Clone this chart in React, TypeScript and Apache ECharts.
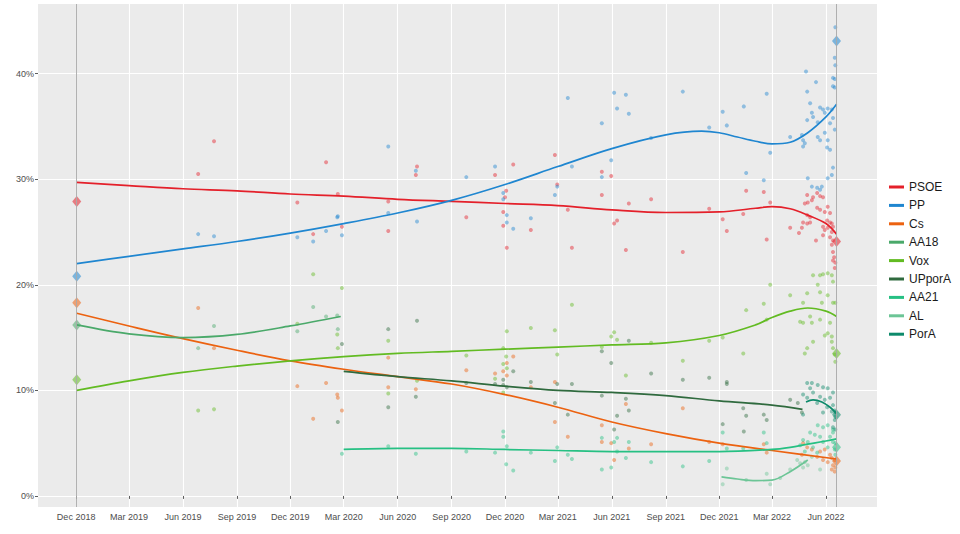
import { useEffect, useRef } from "react";
import * as echarts from "echarts";

type Pt = [string, number];

// party order, as in the legend
const parties = ["PSOE", "PP", "Cs", "AA18", "Vox", "UPporA", "AA21", "AL", "PorA"];

const partyColors: Record<string, string> = {
  PSOE: "#e4202a",
  PP: "#1f86d0",
  Cs: "#ec6210",
  AA18: "#4aa96a",
  Vox: "#62bb22",
  UPporA: "#2f6a3e",
  AA21: "#26c083",
  AL: "#6cc596",
  PorA: "#0d8a6b",
};

// x axis ticks (every quarter) and y axis ticks
const xTicks = [
  "2018-12-01", "2019-03-01", "2019-06-01", "2019-09-01", "2019-12-01",
  "2020-03-01", "2020-06-01", "2020-09-01", "2020-12-01", "2021-03-01",
  "2021-06-01", "2021-09-01", "2021-12-01", "2022-03-01", "2022-06-01",
];
const yTicks = [0, 10, 20, 30, 40];
const xRange = ["2018-09-27", "2022-08-27"];

// election days and results
const electionDates = ["2018-12-02", "2022-06-19"];
const result2018: [string, number][] = [
  ["PSOE", 27.9], ["PP", 20.8], ["Cs", 18.3], ["AA18", 16.2], ["Vox", 11.0],
];
const result2022: [string, number][] = [
  ["PP", 43.1], ["PSOE", 24.1], ["Vox", 13.5], ["PorA", 7.7], ["AA21", 4.6], ["Cs", 3.3],
];

// polls
const psoePolls: Pt[] = [
  ["2019-06-27", 30.5], ["2019-07-24", 33.6], ["2019-12-13", 27.8], ["2020-01-09", 24.8],
  ["2020-01-31", 31.6], ["2020-02-20", 28.6], ["2020-02-27", 25.5], ["2020-05-16", 27.9],
  ["2020-05-16", 25.1], ["2020-07-04", 31.2], ["2020-07-02", 30.4], ["2020-09-26", 26.4],
  ["2020-11-14", 30.4], ["2020-12-03", 28.9], ["2020-12-01", 28.3], ["2020-11-28", 26.9],
  ["2020-11-28", 25.6], ["2020-12-04", 23.5], ["2020-12-15", 31.4], ["2021-01-14", 25.2],
  ["2021-02-24", 32.3], ["2021-02-28", 29.5], ["2021-03-18", 27.1], ["2021-03-25", 23.5],
  ["2021-05-15", 30.7], ["2021-05-31", 30.3], ["2021-05-15", 28.5], ["2021-06-30", 27.7],
  ["2021-06-05", 25.8], ["2021-06-10", 26.1], ["2021-06-25", 23.3], ["2021-08-07", 28.1],
  ["2021-09-30", 23.1], ["2021-11-14", 27.2], ["2021-12-07", 26.2], ["2021-12-14", 25.1],
  ["2022-01-16", 28.9], ["2022-01-11", 26.7], ["2022-02-15", 28.8], ["2022-02-26", 27.8],
  ["2022-02-20", 24.3], ["2022-04-01", 25.4],
  ["2022-04-30", 28.5], ["2022-05-10", 28.3], ["2022-05-17", 28.7], ["2022-05-22", 28.4],
  ["2022-05-27", 28.3], ["2022-05-01", 27.8], ["2022-05-08", 28.0], ["2022-04-26", 27.7],
  ["2022-05-17", 27.3], ["2022-05-22", 27.1], ["2022-06-04", 27.4], ["2022-05-30", 26.9],
  ["2022-06-08", 26.8], ["2022-04-30", 26.6], ["2022-05-05", 26.4], ["2022-04-23", 25.9],
  ["2022-04-30", 25.8], ["2022-05-05", 25.9], ["2022-06-03", 26.1], ["2022-06-08", 25.9],
  ["2022-06-11", 25.8], ["2022-06-13", 25.5], ["2022-05-27", 25.5], ["2022-04-21", 25.4],
  ["2022-05-30", 25.2], ["2022-06-04", 25.4], ["2022-06-11", 25.0], ["2022-04-16", 24.9],
  ["2022-05-27", 24.7], ["2022-06-08", 24.5], ["2022-06-13", 24.2], ["2022-05-15", 24.2],
  ["2022-06-11", 23.8], ["2022-06-13", 23.1], ["2022-06-15", 22.6], ["2022-06-13", 22.3],
  ["2022-06-17", 22.1], ["2022-06-16", 21.6],
];
const ppPolls: Pt[] = [
  ["2019-06-27", 24.8], ["2019-07-24", 24.6], ["2019-12-13", 24.5], ["2020-01-09", 24.1],
  ["2020-01-31", 25.1], ["2020-02-19", 26.4], ["2020-02-20", 26.5], ["2020-02-27", 24.7],
  ["2020-05-16", 33.1], ["2020-05-16", 26.8], ["2020-07-02", 30.8], ["2020-07-04", 26.0],
  ["2020-09-26", 30.2], ["2020-11-14", 31.2], ["2020-11-28", 28.7], ["2020-11-28", 28.1],
  ["2020-12-04", 26.6], ["2020-12-04", 25.9], ["2020-12-15", 25.3], ["2021-01-14", 26.3],
  ["2021-02-28", 29.3], ["2021-02-24", 28.5], ["2021-03-18", 37.7], ["2021-03-25", 31.2],
  ["2021-05-15", 35.3], ["2021-06-05", 38.2], ["2021-06-25", 38.0], ["2021-06-10", 36.7],
  ["2021-06-30", 36.2], ["2021-05-31", 31.8], ["2021-05-15", 30.2], ["2021-08-07", 33.9],
  ["2021-09-30", 38.3], ["2021-11-14", 34.9], ["2021-12-07", 36.4], ["2021-12-14", 35.1],
  ["2022-01-12", 36.9], ["2022-01-16", 30.6], ["2022-02-20", 38.1], ["2022-02-26", 32.5],
  ["2022-02-15", 29.9],
  ["2022-04-28", 40.2], ["2022-05-15", 39.2], ["2022-06-17", 40.8], ["2022-06-13", 39.6],
  ["2022-06-16", 39.5], ["2022-06-13", 38.8], ["2022-06-16", 38.7], ["2022-04-30", 38.3],
  ["2022-05-05", 37.2], ["2022-05-22", 36.8], ["2022-05-27", 36.6], ["2022-06-04", 36.7],
  ["2022-06-11", 36.6], ["2022-05-08", 36.3], ["2022-05-10", 35.9], ["2022-05-30", 36.3],
  ["2022-06-13", 35.8], ["2022-04-30", 35.6], ["2022-05-18", 35.4], ["2022-06-08", 35.3],
  ["2022-06-16", 34.7], ["2022-05-30", 34.4], ["2022-04-21", 34.2], ["2022-04-01", 34.0],
  ["2022-04-23", 33.7], ["2022-05-18", 34.0], ["2022-05-22", 33.7], ["2022-04-26", 33.4],
  ["2022-04-23", 33.1], ["2022-06-04", 33.7], ["2022-06-03", 33.0], ["2022-06-08", 32.8],
  ["2022-06-13", 31.1], ["2022-06-11", 30.4], ["2022-06-04", 30.1], ["2022-05-01", 30.1],
  ["2022-05-08", 29.3], ["2022-05-17", 29.2], ["2022-05-25", 29.3], ["2022-05-22", 29.0],
  ["2022-06-17", 44.4], ["2022-06-16", 41.5],
];
const csPolls: Pt[] = [
  ["2019-06-27", 17.8], ["2019-07-24", 14.0], ["2019-12-13", 10.4], ["2020-01-09", 7.3],
  ["2020-01-31", 10.7], ["2020-02-19", 9.6], ["2020-02-20", 9.3], ["2020-02-27", 8.1],
  ["2020-05-16", 13.1], ["2020-05-16", 10.3], ["2020-07-02", 10.1], ["2020-09-26", 11.9],
  ["2020-11-14", 11.6], ["2020-12-04", 12.6], ["2020-11-28", 11.8], ["2020-12-04", 11.4],
  ["2020-12-15", 13.2], ["2021-01-14", 10.3], ["2021-02-24", 10.8], ["2021-02-24", 7.0],
  ["2021-03-18", 5.6], ["2021-06-25", 8.7], ["2021-05-15", 6.7], ["2021-05-15", 5.1],
  ["2021-05-31", 5.0], ["2021-06-30", 4.5], ["2021-06-05", 3.4], ["2021-08-07", 4.9],
  ["2021-09-30", 8.3], ["2021-11-14", 5.1], ["2021-12-07", 4.9], ["2022-02-15", 4.9],
  ["2022-02-20", 4.1],
  ["2022-04-23", 5.0], ["2022-04-30", 4.6], ["2022-05-08", 4.4], ["2022-04-21", 3.9],
  ["2022-05-22", 4.2], ["2022-05-30", 4.4], ["2022-06-08", 3.9], ["2022-06-11", 3.6],
  ["2022-06-04", 3.2], ["2022-05-27", 3.4], ["2022-06-16", 3.4], ["2022-06-13", 2.9],
  ["2022-06-17", 2.7], ["2022-06-11", 2.5], ["2022-06-16", 2.3], ["2022-05-17", 3.7],
];
const aa18Polls: Pt[] = [
  ["2019-06-27", 14.0], ["2019-07-24", 16.1], ["2019-12-13", 15.6], ["2020-01-09", 17.9],
  ["2020-01-31", 17.0], ["2020-02-19", 17.1], ["2020-02-20", 15.8],
];
const voxPolls: Pt[] = [
  ["2019-06-27", 8.1], ["2019-07-24", 8.2], ["2019-12-13", 16.3], ["2020-01-09", 21.0],
  ["2020-02-19", 15.3], ["2020-02-20", 14.0], ["2020-02-27", 19.7], ["2020-05-16", 14.7],
  ["2020-05-16", 9.7], ["2020-07-04", 10.9], ["2020-09-26", 13.3], ["2020-11-14", 11.1],
  ["2020-11-28", 14.0], ["2020-12-04", 15.6], ["2020-12-03", 13.2], ["2020-11-28", 12.5],
  ["2020-12-04", 12.1], ["2020-11-28", 9.8], ["2021-01-14", 15.9], ["2021-02-24", 15.7],
  ["2021-02-28", 13.4], ["2021-03-25", 18.1], ["2021-05-15", 14.1], ["2021-05-31", 15.1],
  ["2021-06-05", 15.5], ["2021-06-10", 14.8], ["2021-08-07", 14.5], ["2021-06-25", 11.4],
  ["2021-09-30", 12.8], ["2021-11-14", 14.7], ["2021-12-07", 15.0], ["2022-01-16", 17.6],
  ["2022-01-11", 13.5], ["2022-02-15", 18.2], ["2022-02-26", 20.0], ["2022-02-20", 16.7],
  ["2022-04-01", 19.0],
  ["2022-05-10", 20.9], ["2022-05-22", 20.9], ["2022-05-27", 21.0], ["2022-06-04", 21.1],
  ["2022-06-11", 20.9], ["2022-06-13", 20.3], ["2022-05-18", 20.0], ["2022-04-30", 19.2],
  ["2022-05-22", 19.3], ["2022-06-04", 19.0], ["2022-06-13", 18.3], ["2022-05-25", 18.3],
  ["2022-06-17", 18.3], ["2022-04-23", 18.3], ["2022-05-05", 17.0], ["2022-04-18", 16.5],
  ["2022-04-23", 16.4], ["2022-05-08", 16.4], ["2022-05-22", 16.7], ["2022-06-08", 16.4],
  ["2022-05-30", 15.2], ["2022-06-04", 15.4], ["2022-06-11", 15.1], ["2022-06-11", 14.6],
  ["2022-05-10", 14.6], ["2022-06-13", 14.0], ["2022-04-30", 14.0], ["2022-04-26", 13.5],
  ["2022-06-16", 13.4], ["2022-06-17", 12.7],
];
const upPolls: Pt[] = [
  ["2020-02-27", 14.4], ["2020-02-20", 7.0], ["2020-05-16", 15.8], ["2020-05-16", 8.4],
  ["2020-07-04", 16.6], ["2020-07-02", 9.4], ["2020-09-26", 10.7], ["2020-11-14", 10.6],
  ["2020-12-15", 11.8], ["2020-11-28", 11.0], ["2020-11-28", 10.5], ["2020-12-04", 10.3],
  ["2021-01-14", 10.8], ["2021-02-28", 10.6], ["2021-02-24", 8.8], ["2021-03-25", 10.6],
  ["2021-03-18", 7.7], ["2021-05-15", 13.7], ["2021-05-31", 12.6], ["2021-05-15", 9.5],
  ["2021-06-25", 9.2], ["2021-06-30", 8.1], ["2021-06-10", 7.6], ["2021-06-05", 6.3],
  ["2021-06-30", 14.7], ["2021-08-07", 11.6], ["2021-09-30", 11.0], ["2021-11-14", 11.2],
  ["2021-12-14", 10.8], ["2021-12-14", 10.6], ["2021-12-07", 6.8], ["2022-01-11", 8.3],
  ["2022-01-16", 7.6], ["2022-01-12", 6.1], ["2022-02-15", 7.7], ["2022-02-20", 7.2],
  ["2022-04-01", 9.1], ["2022-04-14", 8.8], ["2022-04-21", 7.9],
];
const aa21Polls: Pt[] = [
  ["2020-02-27", 4.0], ["2020-05-16", 4.7], ["2020-07-02", 4.0], ["2020-09-26", 4.2],
  ["2020-11-14", 4.1], ["2020-11-28", 6.1], ["2020-11-28", 5.6], ["2020-12-04", 4.7],
  ["2020-12-03", 3.0], ["2020-12-15", 2.4], ["2021-01-14", 4.1], ["2021-02-28", 4.6],
  ["2021-02-24", 3.3], ["2021-03-18", 3.9], ["2021-03-25", 3.5], ["2021-05-15", 5.5],
  ["2021-06-05", 5.1], ["2021-06-10", 5.5], ["2021-06-30", 5.1], ["2021-06-25", 3.6],
  ["2021-05-15", 2.5], ["2021-05-31", 2.7], ["2021-06-10", 4.2], ["2021-08-07", 3.2],
  ["2021-09-30", 2.8], ["2021-11-14", 3.3], ["2021-12-07", 6.0], ["2021-12-14", 4.5],
  ["2022-01-11", 4.5], ["2022-02-15", 6.0], ["2022-02-20", 5.0],
  ["2022-05-18", 6.7], ["2022-05-27", 6.5], ["2022-06-04", 6.7], ["2022-06-13", 6.3],
  ["2022-05-05", 6.0], ["2022-05-13", 5.8], ["2022-05-22", 5.6], ["2022-06-08", 5.6],
  ["2022-04-23", 5.3], ["2022-05-01", 5.1], ["2022-05-27", 5.1], ["2022-06-13", 5.1],
  ["2022-06-17", 5.0], ["2022-04-18", 4.8], ["2022-05-10", 4.6], ["2022-06-04", 4.6],
  ["2022-06-16", 4.4], ["2022-04-26", 4.2], ["2022-05-17", 4.1], ["2022-06-17", 3.9],
  ["2022-06-13", 6.0],
];
const alPolls: Pt[] = [
  ["2021-12-14", 2.6], ["2021-12-07", 1.1], ["2022-01-16", 1.5], ["2022-02-20", 2.1],
  ["2022-02-26", 1.1], ["2022-03-15", 1.7], ["2022-04-18", 3.1], ["2022-04-26", 3.2],
  ["2022-05-01", 2.9], ["2022-04-23", 2.7], ["2022-04-01", 2.5], ["2022-05-22", 2.5],
  ["2022-04-13", 3.4], ["2022-05-08", 3.7],
];
const porAPolls: Pt[] = [
  ["2022-04-30", 10.7], ["2022-05-08", 10.7], ["2022-05-18", 10.5], ["2022-05-27", 10.3],
  ["2022-06-04", 10.2], ["2022-05-05", 10.2], ["2022-05-10", 9.8], ["2022-06-13", 9.8],
  ["2022-04-23", 9.6], ["2022-04-30", 9.3], ["2022-05-22", 9.4], ["2022-05-30", 9.1],
  ["2022-06-08", 9.3], ["2022-05-17", 8.8], ["2022-06-03", 8.4], ["2022-06-13", 8.6],
  ["2022-06-16", 8.1], ["2022-06-11", 8.0], ["2022-06-17", 7.9], ["2022-06-17", 7.5],
  ["2022-05-27", 7.9], ["2022-04-23", 7.7], ["2022-06-16", 7.2], ["2022-06-13", 6.5],
  ["2022-06-17", 6.3],
];

// smoothed trends
const psoeTrend: Pt[] = [
  ["2018-12-02", 29.7], ["2019-03-01", 29.4], ["2019-06-01", 29.1], ["2019-09-01", 28.9],
  ["2019-12-01", 28.6], ["2020-03-01", 28.4], ["2020-06-01", 28.1], ["2020-09-01", 27.9],
  ["2020-12-01", 27.7], ["2021-03-01", 27.5], ["2021-06-01", 27.1], ["2021-09-01", 26.85],
  ["2021-12-01", 26.9], ["2022-02-01", 27.25], ["2022-03-01", 27.4], ["2022-04-01", 27.2],
  ["2022-05-01", 26.6], ["2022-06-01", 25.8], ["2022-06-19", 24.8],
];
const ppTrend: Pt[] = [
  ["2018-12-02", 22.0], ["2019-03-01", 22.7], ["2019-06-01", 23.4], ["2019-09-01", 24.1],
  ["2019-12-01", 24.9], ["2020-03-01", 25.8], ["2020-06-01", 26.8], ["2020-09-01", 28.0],
  ["2020-12-01", 29.5], ["2021-03-01", 31.2], ["2021-06-01", 32.9], ["2021-09-01", 34.2],
  ["2021-11-01", 34.55], ["2021-12-01", 34.4], ["2022-01-01", 34.0], ["2022-02-01", 33.6],
  ["2022-03-01", 33.35], ["2022-04-01", 33.5], ["2022-05-01", 34.4], ["2022-06-01", 35.9],
  ["2022-06-19", 37.1],
];
const csTrend: Pt[] = [
  ["2018-12-02", 17.3], ["2019-03-01", 16.1], ["2019-06-01", 14.9], ["2019-09-01", 13.8],
  ["2019-12-01", 12.8], ["2020-03-01", 12.0], ["2020-06-01", 11.3], ["2020-09-01", 10.6],
  ["2020-12-01", 9.6], ["2021-03-01", 8.4], ["2021-06-01", 7.0], ["2021-09-01", 5.9],
  ["2021-12-01", 5.0], ["2022-03-01", 4.3], ["2022-06-19", 3.5],
];
const aa18Trend: Pt[] = [
  ["2018-12-02", 16.2], ["2019-03-01", 15.35], ["2019-06-01", 15.0], ["2019-09-01", 15.3],
  ["2019-12-01", 16.1], ["2020-02-25", 17.0],
];
const voxTrend: Pt[] = [
  ["2018-12-02", 10.0], ["2019-03-01", 10.9], ["2019-06-01", 11.7], ["2019-09-01", 12.3],
  ["2019-12-01", 12.8], ["2020-03-01", 13.2], ["2020-06-01", 13.5], ["2020-09-01", 13.7],
  ["2020-12-01", 13.9], ["2021-03-01", 14.1], ["2021-06-01", 14.3], ["2021-09-01", 14.5],
  ["2021-12-01", 15.2], ["2022-02-01", 16.2], ["2022-03-01", 16.9], ["2022-04-01", 17.5],
  ["2022-05-01", 17.8], ["2022-06-01", 17.5], ["2022-06-19", 17.0],
];
const upTrend: Pt[] = [
  ["2020-03-01", 11.8], ["2020-06-01", 11.3], ["2020-09-01", 10.9], ["2020-12-01", 10.4],
  ["2021-03-01", 10.0], ["2021-06-01", 9.8], ["2021-09-01", 9.5], ["2021-12-01", 9.0],
  ["2022-03-01", 8.6], ["2022-04-22", 8.2],
];
const aa21Trend: Pt[] = [
  ["2020-03-01", 4.4], ["2020-06-01", 4.5], ["2020-09-01", 4.5], ["2020-12-01", 4.4],
  ["2021-03-01", 4.3], ["2021-06-01", 4.2], ["2021-09-01", 4.2], ["2021-12-01", 4.2],
  ["2022-03-01", 4.4], ["2022-04-01", 4.6], ["2022-05-01", 4.9], ["2022-06-01", 5.2],
  ["2022-06-19", 5.4],
];
const alTrend: Pt[] = [
  ["2021-12-05", 1.8], ["2022-01-01", 1.6], ["2022-02-01", 1.45], ["2022-03-01", 1.5],
  ["2022-04-01", 2.3], ["2022-05-01", 3.4],
];
const porATrend: Pt[] = [
  ["2022-04-28", 8.9], ["2022-05-10", 9.1], ["2022-05-25", 8.9], ["2022-06-08", 8.4],
  ["2022-06-19", 7.8],
];

const pollsByParty: Record<string, Pt[]> = {
  PSOE: psoePolls, PP: ppPolls, Cs: csPolls, AA18: aa18Polls, Vox: voxPolls,
  UPporA: upPolls, AA21: aa21Polls, AL: alPolls, PorA: porAPolls,
};
const trendByParty: Record<string, Pt[]> = {
  PSOE: psoeTrend, PP: ppTrend, Cs: csTrend, AA18: aa18Trend, Vox: voxTrend,
  UPporA: upTrend, AA21: aa21Trend, AL: alTrend, PorA: porATrend,
};

const monthNames = ["Jan", "Feb", "Mar", "Apr", "May", "Jun", "Jul", "Aug", "Sep", "Oct", "Nov", "Dec"];
const FONT = "'Liberation Sans', Arial, sans-serif";

// date string -> timestamp (UTC midnight)
const ts = (d: string) => Date.parse(d + "T00:00:00Z");
const toXY = (pts: Pt[]) => pts.map(([d, v]) => [ts(d), v]);

const App = () => {
  const chartRef = useRef<HTMLDivElement>(null);

  useEffect(() => {
    const chart = echarts.init(chartRef.current, null, { renderer: "svg" });

    const pollSeries = parties.map((p) => ({
      name: p + " polls",
      type: "scatter",
      data: toXY(pollsByParty[p]),
      symbol: "circle",
      symbolSize: 4,
      itemStyle: { color: partyColors[p], opacity: 0.45 },
      silent: true,
      z: 2,
    }));

    const trendSeries = parties.map((p) => ({
      name: p,
      type: "line",
      data: toXY(trendByParty[p]),
      showSymbol: false,
      smooth: 0.35,
      lineStyle: { color: partyColors[p], width: 1.7 },
      itemStyle: { color: partyColors[p] },
      silent: true,
      z: 4,
    }));

    const electionSeries = [result2018, result2022].map((res, i) => ({
      name: "election " + (i + 1),
      type: "scatter",
      symbol: "diamond",
      symbolSize: [9, 11],
      data: res.map(([p, v]) => ({
        value: [ts(electionDates[i]), v],
        itemStyle: { color: partyColors[p], opacity: 0.55 },
      })),
      silent: true,
      z: 3,
      markLine:
        i === 0
          ? {
              silent: true,
              symbol: ["none", "none"],
              label: { show: false },
              lineStyle: { color: "#a8a8a8", width: 0.9, type: "solid" },
              data: electionDates.map((d) => ({ xAxis: ts(d) })),
            }
          : undefined,
    }));

    chart.setOption({
      animation: false,
      backgroundColor: "#ffffff",
      textStyle: { fontFamily: FONT },
      grid: {
        left: 38,
        right: 83,
        top: 4,
        bottom: 27,
        show: true,
        backgroundColor: "#EBEBEB",
        borderWidth: 0,
      },
      legend: {
        data: parties,
        orient: "vertical",
        left: 884,
        top: 175,
        itemWidth: 15,
        itemHeight: 3,
        itemGap: 4.4,
        icon: "rect",
        textStyle: { fontSize: 12, color: "#1a1a1a", fontFamily: FONT, lineHeight: 14 },
      },
      xAxis: {
        type: "value",
        min: ts(xRange[0]),
        max: ts(xRange[1]),
        axisLine: { show: false },
        axisTick: {
          show: true,
          customValues: xTicks.map(ts),
          length: 3,
          lineStyle: { color: "#333333", width: 0.8 },
        },
        axisLabel: {
          customValues: xTicks.map(ts),
          color: "#4d4d4d",
          fontSize: 9,
          margin: 5,
          hideOverlap: false,
          formatter: (v: number) => {
            const d = new Date(v);
            return monthNames[d.getUTCMonth()] + " " + d.getUTCFullYear();
          },
        },
        splitLine: { show: true, lineStyle: { color: "#ffffff", width: 1.1 } },
      },
      yAxis: {
        type: "value",
        min: -1.05,
        max: 46.6,
        axisLine: { show: false },
        axisTick: {
          show: true,
          customValues: yTicks,
          length: 3,
          lineStyle: { color: "#333333", width: 0.8 },
        },
        axisLabel: {
          customValues: yTicks,
          color: "#4d4d4d",
          fontSize: 9,
          margin: 4,
          formatter: (v: number) => v + "%",
        },
        splitLine: { show: true, lineStyle: { color: "#ffffff", width: 1.1 } },
      },
      series: [...pollSeries, ...electionSeries, ...trendSeries],
    });

    return () => {
      chart.dispose();
    };
  }, []);

  return (
    <div
      ref={chartRef}
      style={{ position: "absolute", left: 0, top: 0, width: "960px", height: "534px" }}
    ></div>
  );
};

export default App;
